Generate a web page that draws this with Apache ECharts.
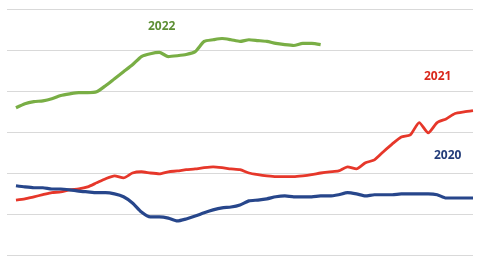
<!DOCTYPE html>
<html>
<head>
<meta charset="utf-8">
<script src="https://cdn.jsdelivr.net/npm/echarts@6/dist/echarts.min.js"></script>
<style>html,body{margin:0;padding:0;background:#fff}#c{width:483px;height:262px}</style>
</head>
<body>
<div id="c"></div>
<script>
var weeks = [];
for (var w = 0; w < 52; w++) weeks.push(w);

var series2022 = [35.9,36.9,37.4,37.6,38.1,38.9,39.3,39.6,39.6,39.8,41.3,43.0,44.7,46.4,48.4,49.1,49.4,48.4,48.6,48.9,49.6,52.1,52.5,52.8,52.5,52.1,52.5,52.3,52.1,51.6,51.3,51.1,51.6,51.6,51.3];
var series2021 = [13.4,13.7,14.2,14.7,15.2,15.4,15.9,16.1,16.6,17.6,18.6,19.3,18.8,20.0,20.3,20.0,19.8,20.3,20.5,20.8,21.0,21.3,21.5,21.3,21.0,20.8,20.0,19.6,19.3,19.1,19.1,19.1,19.3,19.6,20.0,20.3,20.5,21.5,21.0,22.5,23.2,25.2,27.1,28.8,29.3,32.3,29.8,32.3,33.2,34.5,34.9,35.2];
var series2020 = [16.9,16.6,16.4,16.4,16.1,16.1,15.9,15.6,15.4,15.2,15.2,14.9,14.2,12.7,10.5,9.3,9.3,9.0,8.3,8.8,9.5,10.3,11.0,11.5,11.7,12.2,13.2,13.4,13.7,14.2,14.4,14.2,14.2,14.2,14.4,14.4,14.7,15.2,14.9,14.4,14.7,14.7,14.7,14.9,14.9,14.9,14.9,14.7,13.9,13.9,13.9,13.9];
var seriesNames = ['2022','2021','2020'];

function pairs(arr){ return arr.map(function(v,i){ return [weeks[i], v]; }); }

var chart = echarts.init(document.getElementById('c'), null, {renderer:'canvas'});
chart.setOption({
  animation:false,
  backgroundColor:'#ffffff',
  grid:{left:7,right:10,top:9,bottom:7,containLabel:false},
  xAxis:{type:'value',min:-1,max:51,show:false},
  yAxis:{type:'value',min:0,max:60,interval:10,
    axisLine:{show:false},axisTick:{show:false},axisLabel:{show:false},
    splitLine:{lineStyle:{color:'#d9d9d9',width:1}}},
  series:[
    {name:seriesNames[0],type:'line',data:pairs(series2022),showSymbol:false,smooth:0.2,
      lineStyle:{color:'#79ae45',width:3.2},itemStyle:{color:'#79ae45'}},
    {name:seriesNames[1],type:'line',data:pairs(series2021),showSymbol:false,smooth:0.2,
      lineStyle:{color:'#e6372a',width:2.8},itemStyle:{color:'#e6372a'}},
    {name:seriesNames[2],type:'line',data:pairs(series2020),showSymbol:false,smooth:0.2,
      lineStyle:{color:'#27468b',width:3.2},itemStyle:{color:'#27468b'}}
  ],
  graphic:[
    {type:'text',left:148,top:21,style:{text:seriesNames[0],fill:'#5e8f35',font:'bold 12px "Open Sans", sans-serif'}},
    {type:'text',left:424,top:71,style:{text:seriesNames[1],fill:'#d9281c',font:'bold 12px "Open Sans", sans-serif'}},
    {type:'text',left:434,top:150,style:{text:seriesNames[2],fill:'#233d7a',font:'bold 12px "Open Sans", sans-serif'}}
  ]
});
</script>
</body>
</html>
